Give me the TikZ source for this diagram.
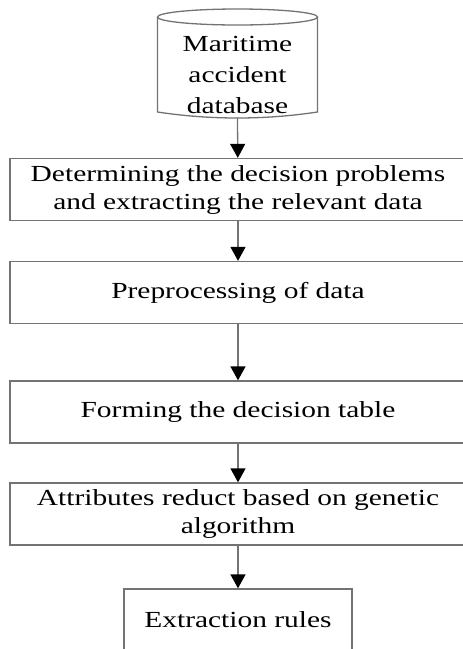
\documentclass[tikz,border=0pt]{standalone}
\usepackage{fontspec}
\setmainfont{Liberation Serif}[FakeStretch=1.28]
\usepackage{xcolor}
\usepackage{tikz}
\usetikzlibrary{arrows.meta, positioning}

\begin{document}
\begin{tikzpicture}[x=1pt, y=1pt,
    stepbox/.style={rectangle, draw=black!55, line width=1.3pt, minimum width=456pt, minimum height=62pt, inner sep=0pt, align=center, font=\fontsize{23}{28}\selectfont},
    endbox/.style={stepbox, minimum width=228pt},
    dbtext/.style={align=center, inner sep=0pt, font=\fontsize{23}{31}\selectfont},
    outline/.style={draw=black!55, line width=1.3pt},
    arrow/.style={-{Triangle[length=14pt, width=15pt, color=black]}, draw=black!55, line width=1.3pt}
]
\useasboundingbox (0,0) rectangle (463,-649);

% Database cylinder
\draw[outline] (157.5,-17) -- (157.5,-112) .. controls (210,-120) and (265,-120) .. (317.5,-112) -- (317.5,-17);
\draw[outline, fill=white] (237.5,-17) ellipse (80 and 8);
\node[dbtext] (db) at (237.5,-74.5) {Maritime\\accident\\database};
\coordinate (dbout) at (237.5,-117.5);

% Process blocks
\node[stepbox] (b1) at (238,-189.5) {Determining the decision problems\\and extracting the relevant data};
\node[stepbox] (b2) at (238,-292.5) {Preprocessing of data};
\node[stepbox] (b3) at (238,-412) {Forming the decision table};
\node[stepbox] (b4) at (238,-514) {Attributes reduct based on genetic\\algorithm};
\node[endbox] (b5) at (238,-620) {Extraction rules};

% Arrows between blocks
\draw[arrow] (dbout) -- (b1);
\draw[arrow] (b1) -- (b2);
\draw[arrow] (b2) -- (b3);
\draw[arrow] (b3) -- (b4);
\draw[arrow] (b4) -- (b5);

\end{tikzpicture}
\end{document}
